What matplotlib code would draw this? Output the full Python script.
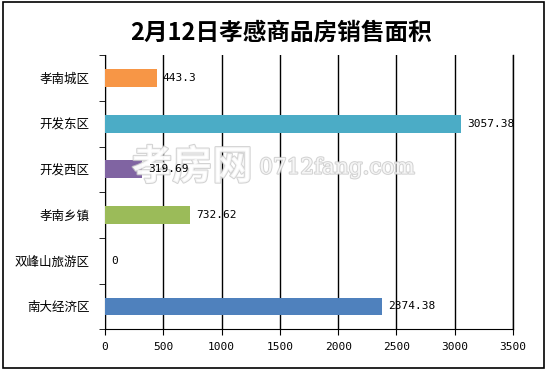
import matplotlib
matplotlib.use("Agg")
import matplotlib.pyplot as plt
import matplotlib.patheffects as pe
from matplotlib.patches import Rectangle

plt.rcParams['font.family'] = ['Noto Sans CJK SC', 'DejaVu Sans']

# data, top to bottom as shown
areas = ["孝南城区", "开发东区", "开发西区", "孝南乡镇", "双峰山旅游区", "南大经济区"]
values = [443.3, 3057.38, 319.69, 732.62, 0, 2374.38]
labels = ["443.3", "3057.38", "319.69", "732.62", "0", "2374.38"]
colors = ["#F79646", "#4BACC6", "#8064A2", "#9BBB59", "#4F81BD", "#4F81BD"]
xticks = [0, 500, 1000, 1500, 2000, 2500, 3000, 3500]

fig = plt.figure(figsize=(5.47, 3.70), dpi=100)
fig.patches.append(Rectangle((0.005, 0.006), 0.99, 0.988, transform=fig.transFigure,
                             fill=False, ec="black", lw=1.2))
ax = fig.add_axes([0.192, 0.110, 0.746, 0.741])

n = len(areas)
ypos = list(range(n - 1, -1, -1))
ax.barh(ypos, values, height=0.39, color=colors, zorder=3)
for y, v, t in zip(ypos, values, labels):
    ax.text(v + 50, y, t, va="center", ha="left", fontsize=8,
            family=["DejaVu Sans Mono"], zorder=6)

ax.set_xlim(0, 3500)
ax.set_ylim(-0.5, n - 0.5)
ax.set_xticks(xticks)
ax.set_xticklabels([str(x) for x in xticks], fontsize=8, family=["DejaVu Sans Mono"])
ax.set_yticks(ypos)
ax.set_yticklabels(areas, fontsize=9)
ax.set_yticks([i - 0.5 for i in range(n + 1)], minor=True)
ax.tick_params(axis="y", which="major", length=0, pad=11)
ax.tick_params(axis="y", which="minor", length=4, direction="out")
ax.tick_params(axis="x", length=4, direction="out", pad=5)
ax.grid(axis="x", color="black", lw=1, zorder=0)
ax.spines["top"].set_visible(False)
ax.spines["right"].set_linewidth(1)  # gridline at 3500

fig.text(0.513, 0.913, "2月12日孝感商品房销售面积", ha="center", va="center",
         fontsize=17, fontweight="bold")

# watermark
wm = dict(color="white", alpha=0.8, zorder=5, transform=fig.transFigure,
          path_effects=[pe.withStroke(linewidth=1.5, foreground="#c8c8c8")])
ax.text(0.241, 0.547, "孝房网", fontsize=29, ha="left", va="center",
        fontweight="bold", **wm)
ax.text(0.474, 0.547, "0712fang.com", fontsize=15.5, ha="left", va="center",
        family=["DejaVu Serif"], **wm)

plt.savefig("out.png", dpi=100)
